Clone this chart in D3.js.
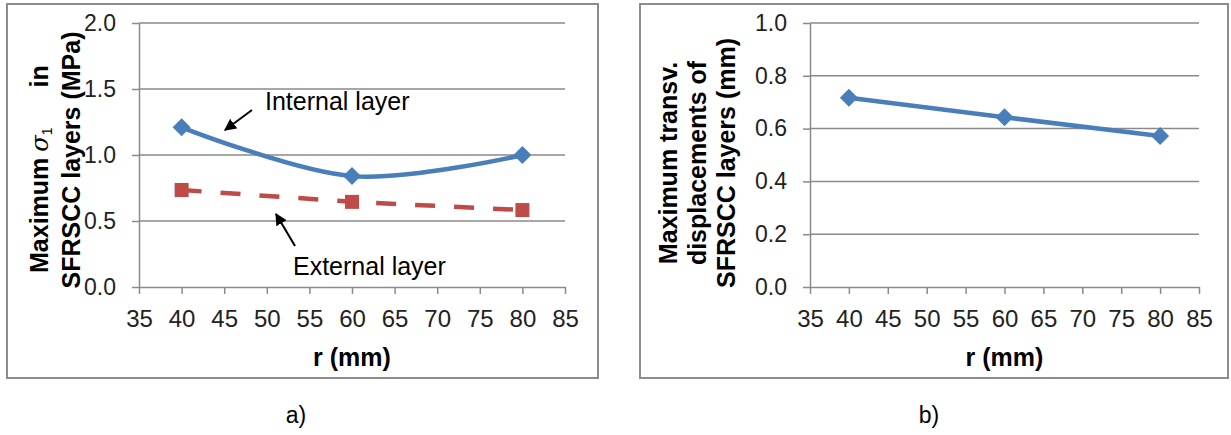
<!DOCTYPE html>
<html><head><meta charset="utf-8">
<script src="https://cdn.jsdelivr.net/npm/d3@7"></script>
<style>
body{margin:0;background:#fff}
svg{display:block}
text{font-family:Arial,"Liberation Sans",sans-serif}
</style>
</head><body>
<svg id="c" width="1231" height="435"></svg>
<script>
// ---- data ----
const rValues = [40, 60, 80];
const internalStress = [1.21, 0.84, 1.00];
const externalStress = [0.735, 0.645, 0.583];
const transvDisp = [0.717, 0.643, 0.572];
const xTicks = [35, 40, 45, 50, 55, 60, 65, 70, 75, 80, 85];
const yTicksA = [0, 0.5, 1.0, 1.5, 2.0];
const yTicksB = [0, 0.2, 0.4, 0.6, 0.8, 1.0];
const xTitle = "r (mm)";

const GRID = "#8a8a8a";
const BLUE = "#4a7ebb";
const RED = "#be4b48";
const TXT = "#222";

const svg = d3.select("#c");
svg.append("rect").attr("width",1231).attr("height",435).attr("fill","#fff");

const defs = svg.append("defs");
defs.append("marker").attr("id","arr").attr("viewBox","0 0 10 10")
  .attr("refX",9).attr("refY",5).attr("markerWidth",6).attr("markerHeight",6)
  .attr("orient","auto").attr("markerUnits","strokeWidth")
  .append("path").attr("d","M0,0L10,5L0,10z").attr("fill","#000");

function frame(x,y,w,h){
  svg.append("rect").attr("x",x).attr("y",y).attr("width",w).attr("height",h)
    .attr("fill","none").attr("stroke","#8c8c8c").attr("stroke-width",2);
}

function axes(x, y, yTicks){
  const g = svg.append("g");
  g.append("g").selectAll("line").data(yTicks.filter(d=>d>0)).join("line")
    .attr("x1",x.range()[0]).attr("x2",x.range()[1])
    .attr("y1",d=>y(d)).attr("y2",d=>y(d))
    .attr("stroke",GRID).attr("stroke-width",1.5);
  const ya = g.append("g").attr("transform",`translate(${x.range()[0]},0)`)
    .call(d3.axisLeft(y).tickValues(yTicks).tickFormat(d3.format(".1f"))
      .tickSize(7).tickSizeOuter(0).tickPadding(16));
  const xa = g.append("g").attr("transform",`translate(0,${y.range()[0]})`)
    .call(d3.axisBottom(x).tickValues(xTicks).tickFormat(d3.format("d"))
      .tickSize(7).tickSizeOuter(0).tickPadding(16));
  [ya,xa].forEach(a=>{
    a.select(".domain").attr("stroke",GRID).attr("stroke-width",1.5);
    a.selectAll(".tick line").attr("stroke",GRID).attr("stroke-width",1.5);
    a.selectAll(".tick text").attr("fill",TXT).attr("font-family","Arial, 'Liberation Sans', sans-serif");
  });
  ya.selectAll(".tick text").attr("font-size",23);
  xa.selectAll(".tick text").attr("font-size",24);
  return g;
}

// ---------- Panel a ----------
frame(7,4,591,374);
const xA = d3.scaleLinear().domain([35,85]).range([139,565]);
const yA = d3.scaleLinear().domain([0,2]).range([287,23]);
axes(xA,yA,yTicksA);

// external layer (dashed red, squares)
const lineA_ext = d3.line().x((d,i)=>xA(rValues[i])).y(d=>yA(d));
svg.append("path").attr("d",lineA_ext(externalStress))
  .attr("fill","none").attr("stroke",RED).attr("stroke-width",4.5)
  .attr("stroke-dasharray","20,19");
svg.append("g").selectAll("path").data(externalStress).join("path")
  .attr("d",d3.symbol(d3.symbolSquare,196)())
  .attr("transform",(d,i)=>`translate(${xA(rValues[i])},${yA(d)})`)
  .attr("fill",RED);

// internal layer (smooth blue, diamonds)
const lineA_int = d3.line().curve(d3.curveCardinal.tension(0))
  .x((d,i)=>xA(rValues[i])).y(d=>yA(d));
svg.append("path").attr("d",lineA_int(internalStress))
  .attr("fill","none").attr("stroke",BLUE).attr("stroke-width",4.5);
svg.append("g").selectAll("path").data(internalStress).join("path")
  .attr("d",d3.symbol(d3.symbolSquare,162)())
  .attr("transform",(d,i)=>`translate(${xA(rValues[i])},${yA(d)}) rotate(45)`)
  .attr("fill",BLUE);

// annotations
svg.append("text").attr("x",265).attr("y",110).attr("font-size",25).attr("fill","#000").text("Internal layer");
svg.append("line").attr("x1",252).attr("y1",110).attr("x2",225).attr("y2",130)
  .attr("stroke","#000").attr("stroke-width",2).attr("marker-end","url(#arr)");
svg.append("text").attr("x",293).attr("y",275).attr("font-size",25).attr("fill","#000").text("External layer");
svg.append("line").attr("x1",295).attr("y1",246).attr("x2",276).attr("y2",214)
  .attr("stroke","#000").attr("stroke-width",2).attr("marker-end","url(#arr)");

// y title a
const ta1 = svg.append("text").attr("transform","translate(48,273) rotate(-90)")
  .attr("font-size",25).attr("fill","#000");
ta1.append("tspan").attr("font-weight","bold").text("Maximum");
ta1.append("tspan").attr("dx",6).attr("font-style","italic").attr("font-size",24)
  .attr("font-family","'DejaVu Serif', serif").text("σ");
ta1.append("tspan").attr("font-size",14).attr("dy",4).text("1");
ta1.append("tspan").attr("font-weight","bold").attr("dx",40).attr("dy",-4).text("in");
svg.append("text").attr("transform","translate(80,160) rotate(-90)")
  .attr("text-anchor","middle").attr("font-size",25).attr("font-weight","bold")
  .attr("fill","#000").text("SFRSCC layers (MPa)");
svg.append("text").attr("x",(xA.range()[0]+xA.range()[1])/2).attr("y",366)
  .attr("text-anchor","middle").attr("font-size",25).attr("font-weight","bold")
  .attr("fill","#000").text(xTitle);

// ---------- Panel b ----------
frame(640,4,588,374);
const xB = d3.scaleLinear().domain([35,85]).range([810,1199]);
const yB = d3.scaleLinear().domain([0,1]).range([287,23]);
axes(xB,yB,yTicksB);

const lineB = d3.line().x((d,i)=>xB(rValues[i])).y(d=>yB(d));
svg.append("path").attr("d",lineB(transvDisp))
  .attr("fill","none").attr("stroke",BLUE).attr("stroke-width",4.5);
svg.append("g").selectAll("path").data(transvDisp).join("path")
  .attr("d",d3.symbol(d3.symbolSquare,162)())
  .attr("transform",(d,i)=>`translate(${xB(rValues[i])},${yB(d)}) rotate(45)`)
  .attr("fill",BLUE);

const titleB = ["Maximum transv.","displacements of","SFRSCC layers (mm)"];
svg.append("g").selectAll("text").data(titleB).join("text")
  .attr("transform",(d,i)=>`translate(${677+i*29},163) rotate(-90)`)
  .attr("text-anchor","middle").attr("font-size",25).attr("font-weight","bold")
  .attr("fill","#000").text(d=>d);
svg.append("text").attr("x",(xB.range()[0]+xB.range()[1])/2).attr("y",366)
  .attr("text-anchor","middle").attr("font-size",25).attr("font-weight","bold")
  .attr("fill","#000").text(xTitle);

// panel labels
svg.append("text").attr("x",296).attr("y",423).attr("text-anchor","middle")
  .attr("font-size",23).attr("fill","#000").text("a)");
svg.append("text").attr("x",929).attr("y",423).attr("text-anchor","middle")
  .attr("font-size",23).attr("fill","#000").text("b)");
</script>
</body></html>
